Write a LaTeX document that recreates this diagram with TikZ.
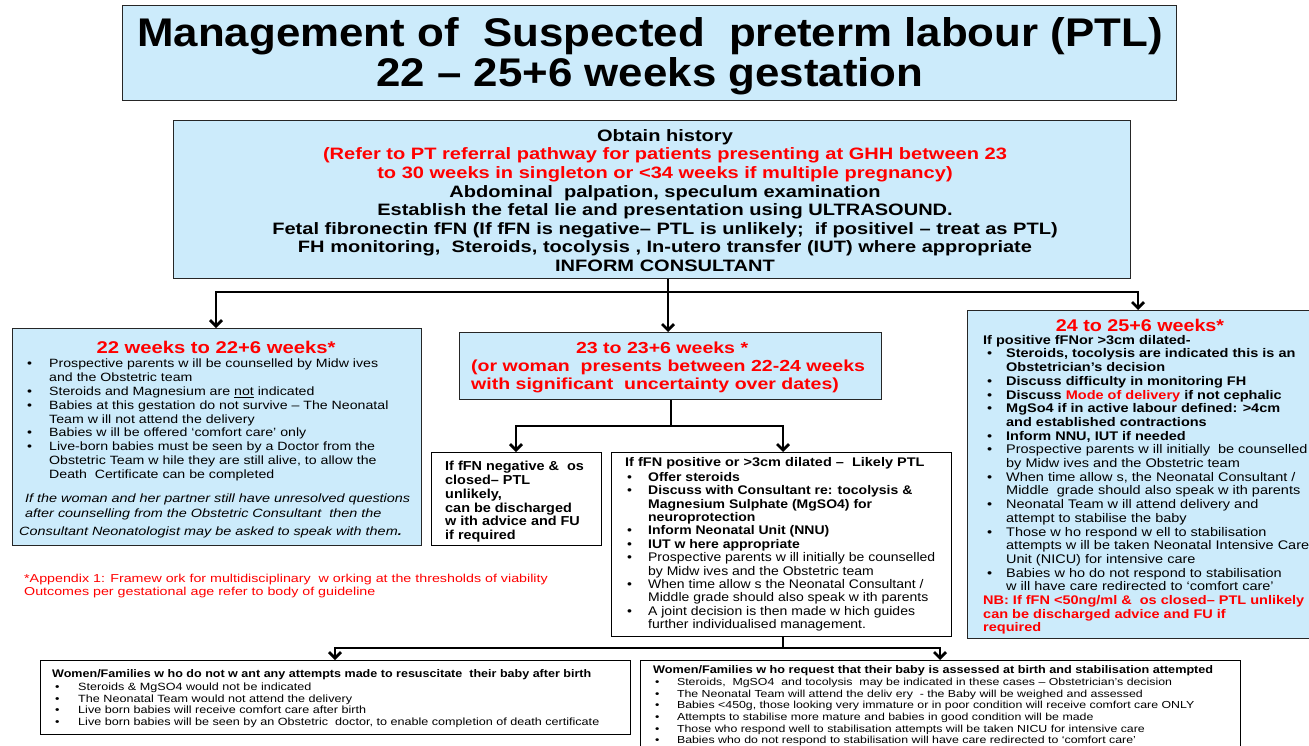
\documentclass[tikz,border=0pt]{standalone}
\usepackage{fontspec}
\setmainfont{Liberation Sans}
\usetikzlibrary{arrows.meta}
\definecolor{bfill}{HTML}{CCEBFB}
\definecolor{pred}{HTML}{FF0000}
\newlength\bind \newlength\boff
\newcommand\Bi[1]{\par\noindent\hangindent=\bind\hangafter=1\makebox[\bind][l]{\hspace*{\boff}\textbullet}#1}
\newcommand\fs[2]{\fontsize{#1}{#2}\selectfont}
\newcommand\SX[2]{\scalebox{#1}[1]{#2}}
\newcommand\PB[1]{\parbox[t]{520pt}{#1}}
\begin{document}
\begin{tikzpicture}[x=1pt,y=-1pt,
  bx/.style={draw=black!85, line width=1.3pt, fill=bfill, inner sep=0pt, anchor=north west},
  wx/.style={draw=black, line width=1.3pt, fill=white, inner sep=0pt, anchor=north west},
  txt/.style={inner sep=0pt, anchor=north west},
  conn/.style={line width=2.8pt, black},
  arr/.style={conn, -{Straight Barb[length=6pt,width=12pt]}}]
\useasboundingbox (0,0) rectangle (1309,745);
\clip (0,0) rectangle (1309,745);
\fill[white] (0,0) rectangle (1309,745);

% boxes
\node[bx, minimum width=1054, minimum height=95] (title) at (122,5) {};
\node[bx, minimum width=957, minimum height=158] (top) at (173,120) {};
\node[bx, minimum width=409, minimum height=217] (left) at (12,328) {};
\node[bx, minimum width=422, minimum height=67] (mid) at (459,332) {};
\node[wx, minimum width=170, minimum height=93] (small) at (431,452) {};
\node[wx, minimum width=340, minimum height=184] (big) at (611,452) {};
\node[bx, minimum width=350, minimum height=328] (right) at (967,310) {};
\node[wx, minimum width=590, minimum height=74] (bl) at (40,660) {};
\node[wx, minimum width=600, minimum height=100] (br) at (640,660) {};

% title
\node[inner sep=0pt, font=\bfseries\fs{40}{39}] (titleT) at (650,58)
  {\SX{1.096}{\begin{tabular}{@{}c@{}}Management of\ \ Suspected\ \ preterm labour (PTL)\\22 – 25+6 weeks gestation\end{tabular}}};

% top box text
\node[inner sep=0pt, anchor=north, font=\bfseries\fs{16.5}{18.6}] (topT) at (665,128)
  {\SX{1.215}{\begin{tabular}{@{}c@{}}Obtain history\\
   \textcolor{pred}{(Refer to PT referral pathway for patients presenting at GHH between 23}\\
   \textcolor{pred}{to 30 weeks in singleton or <34 weeks if multiple pregnancy)}\\
   Abdominal\ \ palpation, speculum examination\\
   Establish the fetal lie and presentation using ULTRASOUND.\\
   Fetal fibronectin fFN (If fFN is negative– PTL is unlikely;\ \ if positivel – treat as PTL)\\
   FH monitoring,\ \ Steroids, tocolysis , In-utero transfer (IUT) where appropriate\\
   INFORM CONSULTANT\end{tabular}}};

% left box
\node[inner sep=0pt, font=\bfseries\fs{17}{20}, text=pred] (leftH) at (216,347) {\SX{1.19}{22 weeks to 22+6 weeks*}};
\node[txt, font=\fs{12}{13.8}] (leftT) at (24,359)
  {\SX{1.18}{\PB{\setlength\bind{21.2pt}\setlength\boff{2.5pt}%
   \Bi{Prospective parents w ill be counselled by Midw ives\\and the Obstetric team}
   \Bi{Steroids and Magnesium are \underline{not} indicated}
   \Bi{Babies at this gestation do not survive – The Neonatal\\Team w ill not attend the delivery}
   \Bi{Babies w ill be offered ‘comfort care’ only}
   \Bi{Live-born babies must be seen by a Doctor from the\\Obstetric Team w hile they are still alive, to allow the\\Death\ \ Certificate can be completed}\par}}};
\node[txt, font=\itshape\fs{12}{14.5}] (leftI) at (25,494)
  {\SX{1.2}{\PB{\noindent If the woman and her partner still have unresolved questions\\
   after counselling from the Obstetric Consultant\ \ then the\par}}};
\node[txt, font=\itshape\fs{12}{14.5}] (leftI2) at (19,527)
  {\SX{1.2}{Consultant Neonatologist may be asked to speak with them\textbf{.}}};

% footnote
\node[txt, font=\fs{11.5}{13.2}, text=pred] (foot) at (24,574)
  {\SX{1.24}{\PB{\noindent *Appendix 1: Framew ork for multidisciplinary\ \ w orking at the thresholds of viability\\
   Outcomes\ per gestational age refer to body of guideline\par}}};

% middle box
\node[txt, font=\bfseries\fs{16}{18}, text=pred] (midT) at (471,342)
  {\SX{1.22}{\PB{\noindent\makebox[313pt][c]{23 to 23+6 weeks *}\\
   (or woman\ \ presents between 22-24 weeks\\
   with significant\ \ uncertainty over dates)\par}}};

% small box
\node[txt, font=\bfseries\fs{13}{13.8}] (smallT) at (445,461)
  {\SX{1.11}{\PB{\noindent If fFN negative \&\ \ os\\closed– PTL\\unlikely,\\can be discharged\\w ith advice and FU\\if required\par}}};

% big box
\node[txt, font=\bfseries\fs{12.5}{13.3}] (bigH) at (625,457)
  {\SX{1.16}{If fFN positive or >3cm dilated –\ \ Likely PTL}};
\node[txt, font=\fs{12.5}{13.4}] (bigT) at (624,472)
  {\SX{1.12}{\PB{\setlength\bind{21.4pt}\setlength\boff{2.7pt}%
   \Bi{\textbf{Offer steroids}}
   \Bi{\textbf{Discuss with Consultant re: tocolysis \&\\Magnesium Sulphate (MgSO4) for\\neuroprotection}}
   \Bi{\textbf{Inform Neonatal Unit (NNU)}}
   \Bi{\textbf{IUT w here appropriate}}
   \Bi{Prospective parents w ill initially be counselled\\by Midw ives and the Obstetric team}
   \Bi{When time allow s the Neonatal Consultant /\\Middle grade should also speak w ith parents}
   \Bi{A joint decision is then made w hich guides\\further individualised management.}\par}}};

% right box
\node[inner sep=0pt, font=\bfseries\fs{17}{20}, text=pred] (rightH) at (1140,325) {\SX{1.16}{24 to 25+6 weeks*}};
\node[txt, font=\fs{12.5}{13.7}] (rightT) at (983,335)
  {\SX{1.16}{\PB{\setlength\bind{19.8pt}\setlength\boff{3.4pt}%
   \noindent\textbf{If positive fFNor >3cm dilated-}
   \Bi{\textbf{Steroids, tocolysis are indicated this is an\\Obstetrician’s decision}}
   \Bi{\textbf{Discuss difficulty in monitoring FH}}
   \Bi{\textbf{Discuss \textcolor{pred}{Mode of delivery} if not cephalic}}
   \Bi{\textbf{MgSo4 if in active labour defined: >4cm\\and established contractions}}
   \Bi{\textbf{Inform NNU, IUT if needed}}
   \Bi{Prospective parents w ill initially\ \ be counselled\\by Midw ives and the Obstetric team}
   \Bi{When time allow s, the Neonatal Consultant /\\Middle\ \ grade should also speak w ith parents}
   \Bi{Neonatal Team w ill attend delivery and\\attempt to stabilise the baby}
   \Bi{Those w ho respond w ell to stabilisation\\attempts w ill be taken Neonatal Intensive Care\\Unit (NICU) for intensive care}
   \Bi{Babies w ho do not respond to stabilisation\\w ill have care redirected to ‘comfort care’}
   \par\noindent\textcolor{pred}{\textbf{NB: If fFN <50ng/ml \&\ \ os closed– PTL unlikely\\can be discharged advice and FU if\\required}}\par}}};

% bottom left
\node[txt, font=\bfseries\fs{11}{12}] (blH) at (52,669)
  {\SX{1.14}{Women/Families w ho do not w ant any attempts made to resuscitate\ \ their baby after birth}};
\node[txt, font=\fs{10.5}{11.4}] (blT) at (52,683)
  {\SX{1.2}{\PB{\setlength\bind{21.7pt}\setlength\boff{2.5pt}%
   \Bi{Steroids \& MgSO4 would not be indicated}
   \Bi{The Neonatal Team would not attend the delivery}
   \Bi{Live born babies will receive comfort care after birth}
   \Bi{Live born babies will be seen by an Obstetric\ \ doctor, to enable completion of death certificate}\par}}};

% bottom right
\node[txt, font=\bfseries\fs{11}{12}] (brH) at (653,665)
  {\SX{1.15}{Women/Families w ho request that their baby is assessed at birth and stabilisation attempted}};
\node[txt, font=\fs{10.2}{11.6}] (brT) at (653,678)
  {\SX{1.21}{\PB{\setlength\bind{19.7pt}\setlength\boff{1.6pt}%
   \Bi{Steroids,\ \ MgSO4\ \ and tocolysis\ \ may be indicated in these cases – Obstetrician’s decision}
   \Bi{The Neonatal Team will attend the deliv ery\ \ - the Baby will be weighed and assessed}
   \Bi{Babies <450g, those looking very immature or in poor condition will receive comfort care ONLY}
   \Bi{Attempts to stabilise more mature and babies in good condition will be made}
   \Bi{Those who respond well to stabilisation attempts will be taken NICU for intensive care}
   \Bi{Babies who do not respond to stabilisation will have care redirected to ‘comfort care’}\par}}};

% connectors
\coordinate (j1) at (668,292);
\coordinate (j1L) at (216,292);
\coordinate (j1R) at (1138,292);
\draw[conn] (top.south -| j1) -- (j1);
\draw[conn, line cap=rect] (j1L) -- (j1R);
\draw[arr] (j1L) -- (left.north -| j1L);
\draw[arr] (j1) -- (mid.north -| j1);
\draw[arr] (j1R) -- (right.north -| j1R);

\coordinate (j2) at (671,426);
\coordinate (j2L) at (516,426);
\coordinate (j2R) at (783,426);
\draw[conn] (mid.south -| j2) -- (j2);
\draw[conn, line cap=rect] (j2L) -- (j2R);
\draw[arr] (j2L) -- (small.north -| j2L);
\draw[arr] (j2R) -- (big.north -| j2R);

\coordinate (j3) at (783,648);
\coordinate (j3L) at (335,648);
\coordinate (j3R) at (940,648);
\draw[conn] (big.south -| j3) -- (j3);
\draw[conn, line cap=rect] (j3L) -- (j3R);
\draw[arr] (j3L) -- (bl.north -| j3L);
\draw[arr] (j3R) -- (br.north -| j3R);
\end{tikzpicture}
\end{document}
